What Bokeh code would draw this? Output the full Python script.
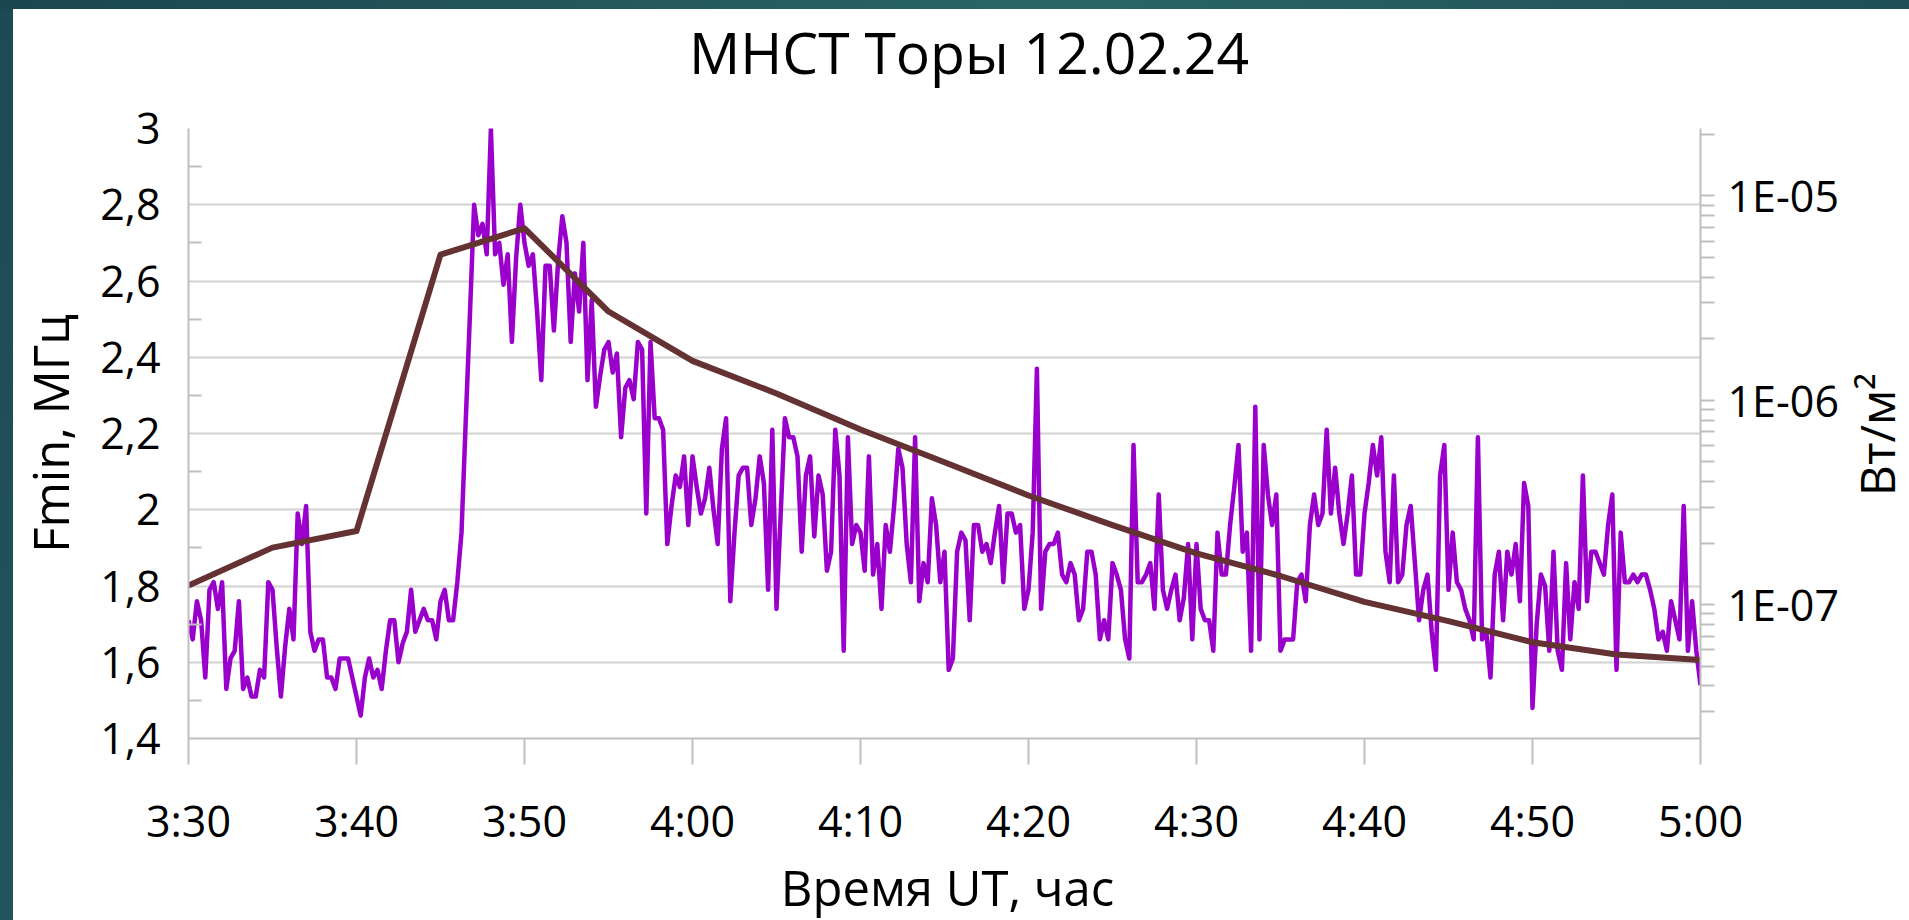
import numpy as np
from math import pi
from bokeh.plotting import figure
from bokeh.models import Range1d, LogScale, LogAxis, LinearAxis, FixedTicker, Spacer, Label
from bokeh.layouts import column, row
from bokeh.embed import file_html
from bokeh.resources import INLINE

# ---------------- texts ----------------
title_text = "МНСТ Торы 12.02.24"
x_label = "Время UT, час"
y_label = "Fmin, МГц"
y2_label = "Вт/м²"

# ---------------- ticks ----------------
x_tick_values = [210, 220, 230, 240, 250, 260, 270, 280, 290, 300]   # minutes after 0:00 UT
x_tick_labels = ["3:30", "3:40", "3:50", "4:00", "4:10", "4:20", "4:30", "4:40", "4:50", "5:00"]
y_tick_values = [1.4, 1.6, 1.8, 2.0, 2.2, 2.4, 2.6, 2.8, 3.0]
y_tick_labels = ["1,4", "1,6", "1,8", "2", "2,2", "2,4", "2,6", "2,8", "3"]
y_minor_ticks = [1.5, 1.7, 1.9, 2.1, 2.3, 2.5, 2.7, 2.9]
flux_tick_values = [1e-7, 1e-6, 1e-5]
flux_tick_labels = ["1E-07", "1E-06", "1E-05"]
flux_minor_ticks = [k * 10.0 ** e for e in (-8, -7, -6, -5) for k in range(2, 10)]

# ---------------- data ----------------
# ionosonde Fmin, MHz, sampled every 15 s from 3:30 UT
fmin_start = 210.0
fmin_step = 0.25
fmin_values = [
    1.71, 1.66, 1.76, 1.71, 1.56, 1.79, 1.81, 1.74, 1.81, 1.53,
    1.61, 1.63, 1.76, 1.53, 1.56, 1.51, 1.51, 1.58, 1.56, 1.81,
    1.79, 1.64, 1.51, 1.64, 1.74, 1.66, 1.99, 1.91, 2.01, 1.68,
    1.63, 1.66, 1.66, 1.56, 1.56, 1.53, 1.61, 1.61, 1.61, 1.56,
    1.51, 1.46, 1.56, 1.61, 1.56, 1.58, 1.53, 1.63, 1.71, 1.71,
    1.60, 1.65, 1.68, 1.79, 1.68, 1.71, 1.74, 1.71, 1.71, 1.66,
    1.76, 1.79, 1.71, 1.71, 1.81, 1.94, 2.23, 2.51, 2.80, 2.72,
    2.75, 2.67, 3.00, 2.67, 2.70, 2.59, 2.67, 2.44, 2.66, 2.80,
    2.70, 2.64, 2.67, 2.52, 2.34, 2.64, 2.64, 2.47, 2.65, 2.77,
    2.70, 2.44, 2.62, 2.52, 2.70, 2.34, 2.55, 2.27, 2.35, 2.42,
    2.44, 2.36, 2.41, 2.19, 2.32, 2.34, 2.29, 2.44, 2.42, 1.99,
    2.44, 2.24, 2.24, 2.21, 1.91, 2.01, 2.09, 2.06, 2.14, 1.96,
    2.14, 2.06, 1.99, 2.03, 2.11, 2.00, 1.91, 2.16, 2.24, 1.76,
    1.94, 2.09, 2.11, 2.11, 1.96, 2.03, 2.14, 2.07, 1.79, 2.21,
    1.74, 1.99, 2.24, 2.19, 2.19, 2.14, 1.89, 2.09, 2.14, 1.93,
    2.09, 2.04, 1.84, 1.89, 2.21, 2.09, 1.63, 2.19, 1.91, 1.96,
    1.94, 1.84, 2.14, 1.83, 1.91, 1.74, 1.96, 1.89, 2.01, 2.16,
    2.11, 1.91, 1.81, 2.19, 1.76, 1.86, 1.81, 2.03, 1.96, 1.81,
    1.89, 1.58, 1.61, 1.89, 1.94, 1.92, 1.71, 1.96, 1.96, 1.89,
    1.91, 1.86, 1.94, 2.01, 1.81, 1.99, 1.99, 1.94, 1.96, 1.74,
    1.79, 1.94, 2.37, 1.74, 1.89, 1.91, 1.91, 1.94, 1.83, 1.81,
    1.86, 1.83, 1.71, 1.74, 1.89, 1.89, 1.83, 1.66, 1.71, 1.66,
    1.86, 1.83, 1.79, 1.66, 1.61, 2.17, 1.81, 1.81, 1.83, 1.86,
    1.74, 2.04, 1.79, 1.74, 1.79, 1.83, 1.71, 1.77, 1.91, 1.66,
    1.91, 1.74, 1.71, 1.71, 1.63, 1.94, 1.83, 1.83, 1.96, 2.06,
    2.17, 1.89, 1.94, 1.63, 2.27, 1.66, 2.17, 2.04, 1.96, 2.04,
    1.63, 1.66, 1.66, 1.66, 1.81, 1.83, 1.76, 1.96, 2.04, 1.96,
    1.99, 2.21, 1.99, 2.11, 1.99, 1.91, 1.99, 2.09, 1.83, 1.83,
    1.99, 2.07, 2.17, 2.09, 2.19, 1.89, 1.81, 2.09, 1.81, 1.83,
    1.96, 2.01, 1.86, 1.71, 1.79, 1.83, 1.68, 1.58, 2.09, 2.17,
    1.79, 1.94, 1.81, 1.79, 1.74, 1.71, 1.66, 2.19, 1.66, 1.68,
    1.56, 1.83, 1.89, 1.71, 1.89, 1.83, 1.91, 1.76, 2.07, 2.01,
    1.48, 1.70, 1.83, 1.80, 1.63, 1.89, 1.63, 1.58, 1.86, 1.66,
    1.81, 1.74, 2.09, 1.76, 1.89, 1.89, 1.86, 1.83, 1.96, 2.04,
    1.58, 1.94, 1.81, 1.81, 1.83, 1.81, 1.83, 1.83, 1.79, 1.74,
    1.66, 1.68, 1.63, 1.76, 1.71, 1.66, 2.01, 1.63, 1.76, 1.63,
    1.54,
]
fmin_time = fmin_start + fmin_step * np.arange(len(fmin_values))

# X-ray flux, W/m^2, every 5 min
goes_time = [210, 215, 220, 225, 230, 235, 240, 245, 250, 255,
             260, 265, 270, 275, 280, 285, 290, 295, 300]
goes_flux = [1.24e-7, 1.90e-7, 2.29e-7, 5.16e-6, 6.95e-6, 2.72e-6, 1.56e-6, 1.08e-6, 7.2e-7, 4.97e-7,
             3.42e-7, 2.45e-7, 1.78e-7, 1.38e-7, 1.03e-7, 8.3e-8, 6.54e-8, 5.70e-8, 5.35e-8]

# layout anchor for the title (axis units)
title_anchor_x = 256.46

# ---------------- styles ----------------
FONT = "Open Sans"
AXIS_GRAY = "#bfbfbf"
GRID_GRAY = "#d2d2d2"
TICK_FS = "43px"
LABEL_FS = "49px"

P_W, P_H = 1830, 843

p = figure(width=P_W, height=P_H,
           x_range=Range1d(210, 300), y_range=Range1d(1.4, 3.0),
           output_backend="svg", toolbar_location=None,
           min_border_left=175, min_border_right=P_W - 1687,
           min_border_top=118, min_border_bottom=P_H - 729,
           background_fill_color="white", border_fill_color="white",
           outline_line_color=None)
p.title.text = ""

p.extra_y_ranges = {"flux": Range1d(2.21e-8, 2.14e-5)}
p.extra_y_scales = {"flux": LogScale()}

# x axis
xa = p.xaxis[0]
xa.ticker = FixedTicker(ticks=x_tick_values, minor_ticks=[])
xa.major_label_overrides = {v: s for v, s in zip(x_tick_values, x_tick_labels)}
xa.major_tick_out = 26
xa.major_tick_in = 0
xa.minor_tick_out = 0
xa.minor_tick_in = 0
xa.major_label_standoff = 26

# left axis
ya = p.yaxis[0]
ya.ticker = FixedTicker(ticks=y_tick_values, minor_ticks=y_minor_ticks)
ya.major_label_overrides = {v: s for v, s in zip(y_tick_values, y_tick_labels)}
ya.major_tick_out = 0
ya.major_tick_in = 0
ya.minor_tick_in = 13
ya.minor_tick_out = 0
ya.major_label_standoff = 28
ya.axis_label = y_label
ya.axis_label_standoff = 14

# right log axis
ra = LogAxis(y_range_name="flux",
             ticker=FixedTicker(ticks=flux_tick_values, minor_ticks=flux_minor_ticks))
ra.major_label_overrides = {v: s for v, s in zip(flux_tick_values, flux_tick_labels)}
ra.major_tick_out = 14
ra.major_tick_in = 0
ra.minor_tick_out = 14
ra.minor_tick_in = 0
ra.major_label_standoff = 13
p.add_layout(ra, "right")

for ax in (xa, ya, ra):
    ax.axis_line_color = AXIS_GRAY
    ax.axis_line_width = 2
    ax.major_tick_line_color = AXIS_GRAY
    ax.major_tick_line_width = 2
    ax.minor_tick_line_color = AXIS_GRAY
    ax.minor_tick_line_width = 2
    ax.major_label_text_font = FONT
    ax.major_label_text_font_size = TICK_FS
    ax.major_label_text_color = "black"
    ax.axis_label_text_font = FONT
    ax.axis_label_text_font_size = LABEL_FS
    ax.axis_label_text_font_style = "normal"
    ax.axis_label_text_color = "black"

# chart title
ta = LinearAxis(ticker=FixedTicker(ticks=[title_anchor_x], minor_ticks=[]))
ta.major_label_overrides = {title_anchor_x: title_text}
ta.major_label_standoff = 38
ta.axis_line_color = None
ta.major_tick_line_color = None
ta.minor_tick_line_color = None
ta.major_tick_out = 0
ta.major_tick_in = 0
ta.major_label_text_font = FONT
ta.major_label_text_font_size = "57px"
ta.major_label_text_color = "black"
p.add_layout(ta, "above")

p.xgrid.visible = False
p.ygrid.ticker = FixedTicker(ticks=y_tick_values)
p.ygrid.grid_line_color = GRID_GRAY
p.ygrid.grid_line_width = 2

# series
p.line(fmin_time, fmin_values, line_color="#9900CC", line_width=4.5, line_join="round")
p.line(goes_time, goes_flux, y_range_name="flux", line_color="#643232",
       line_width=6, line_join="round")


def text_strip(w, h):
    f = figure(width=w, height=h, x_range=Range1d(0, w), y_range=Range1d(0, h),
               x_axis_type=None, y_axis_type=None, output_backend="svg",
               toolbar_location=None, min_border=0, outline_line_color=None,
               background_fill_color="white", border_fill_color="white")
    f.title.text = ""
    return f


# right-hand unit label (reads bottom-to-top)
RS_W = 1896 - P_W
rs = text_strip(RS_W, P_H)
rs.add_layout(Label(x=RS_W / 2, y=P_H - 423, text=y2_label, angle=pi / 2,
                    text_font=FONT, text_font_size="48px", text_color="black",
                    text_align="center", text_baseline="middle"))

# x-axis title strip
BS_H = 911 - P_H
bs = text_strip(P_W + RS_W, BS_H)
bs.add_layout(Label(x=934, y=BS_H / 2, text=x_label,
                    text_font=FONT, text_font_size=LABEL_FS, text_color="black",
                    text_align="center", text_baseline="middle"))

top_bar = Spacer(width=1909, height=9,
                 styles={"background": "linear-gradient(90deg, #1a4650 0%, #2a6565 55%, #1f5059 100%)"})
left_bar = Spacer(width=13, height=911,
                  styles={"background": "linear-gradient(180deg, #1d4a54 0%, #22545b 100%)"})
layout = column(top_bar,
                row(left_bar,
                    column(row(p, rs, spacing=0), bs, spacing=0),
                    spacing=0),
                spacing=0)

open("out.html", "w").write(file_html(layout, INLINE))
